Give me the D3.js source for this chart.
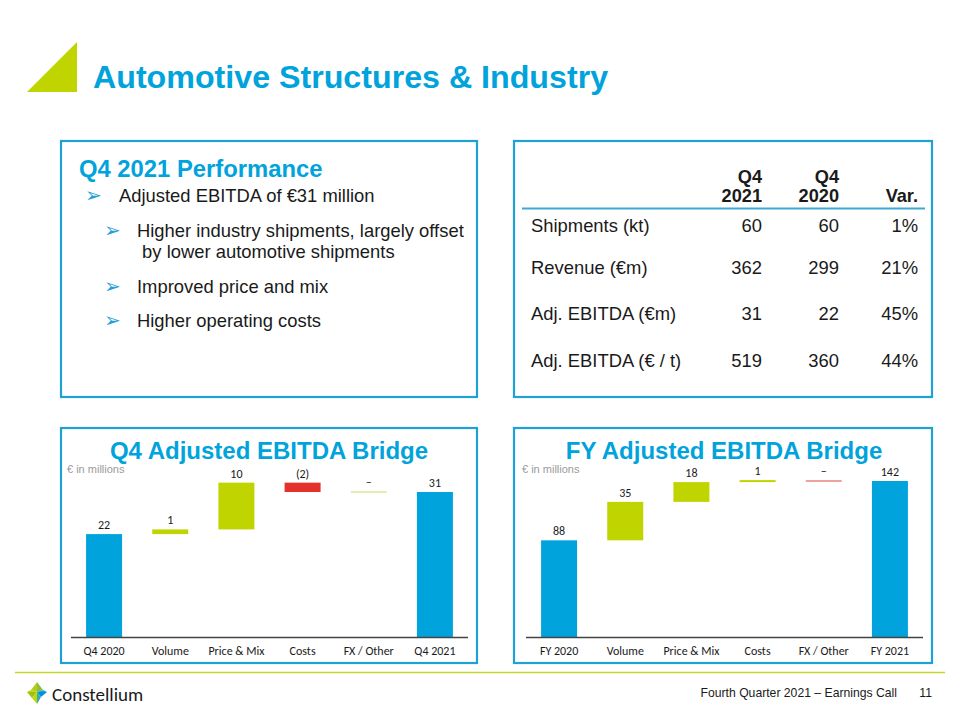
<!DOCTYPE html>
<html>
<head>
<meta charset="utf-8">
<script src="https://cdn.jsdelivr.net/npm/d3@7/dist/d3.min.js"></script>
<style>
  html, body { margin: 0; padding: 0; background: #fff; }
  svg { display: block; }
  .arial { font-family: "Liberation Sans", Arial, sans-serif; }
  .cal { font-family: Carlito, Lato, "Open Sans", sans-serif; }
</style>
</head>
<body>
<script>
// ---------- DATA ----------
const pageTitle = "Automotive Structures & Industry";
const perfTitle = "Q4 2021 Performance";
const perfBullets = [
  { level: 0, lines: ["Adjusted EBITDA of €31 million"] },
  { level: 1, lines: ["Higher industry shipments, largely offset", " by lower automotive shipments"] },
  { level: 1, lines: ["Improved price and mix"] },
  { level: 1, lines: ["Higher operating costs"] }
];

const tableHeaders = [["Q4", "2021"], ["Q4", "2020"], ["", "Var."]];
const tableRows = ["Shipments (kt)", "Revenue (€m)", "Adj. EBITDA (€m)", "Adj. EBITDA (€ / t)"];
const colQ42021 = ["60", "362", "31", "519"];
const colQ42020 = ["60", "299", "22", "360"];
const colVar = ["1%", "21%", "45%", "44%"];

const q4Title = "Q4 Adjusted EBITDA Bridge";
const q4Categories = ["Q4 2020", "Volume", "Price & Mix", "Costs", "FX / Other", "Q4 2021"];
const q4Values = [22, 1, 10, -2, 0, 31];
const q4Labels = ["22", "1", "10", "(2)", "–", "31"];

const fyTitle = "FY Adjusted EBITDA Bridge";
const fyCategories = ["FY 2020", "Volume", "Price & Mix", "Costs", "FX / Other", "FY 2021"];
const fyValues = [88, 35, 18, 1, 0, 142];
const fyLabels = ["88", "35", "18", "1", "–", "142"];

const unitNote = "€ in millions";
const footerText = "Fourth Quarter 2021 – Earnings Call";
const pageNumber = "11";
const brand = "Constellium";

// ---------- STYLE ----------
const BLUE = "#00A3DB";
const BORDER = "#1FA0D6";
const GREEN = "#C0D400";
const RED = "#E2322B";
const TEXT = "#1a1a1a";

const svg = d3.select("body").append("svg").attr("width", 960).attr("height", 720);

// Title triangle + title
svg.append("path").attr("d", d3.line()([[27, 92], [77, 42], [77, 92]]) + "Z").attr("fill", GREEN);
svg.append("text").attr("class", "arial").attr("x", 93).attr("y", 88)
  .attr("font-size", 32.2).attr("font-weight", "bold").attr("fill", BLUE).text(pageTitle);

// Panels
const panels = [[61, 141, 416, 256], [514, 141, 418, 256], [61, 428, 416, 235], [514, 428, 418, 235]];
svg.selectAll("rect.panel").data(panels).join("rect").attr("class", "panel")
  .attr("x", d => d[0]).attr("y", d => d[1]).attr("width", d => d[2]).attr("height", d => d[3])
  .attr("fill", "none").attr("stroke", BORDER).attr("stroke-width", 2.2);

// ---------- Performance panel ----------
svg.append("text").attr("class", "arial").attr("x", 79).attr("y", 177)
  .attr("font-size", 23.8).attr("font-weight", "bold").attr("fill", BLUE).text(perfTitle);

const bulletY = [202, 237, 293, 327];
perfBullets.forEach((b, i) => {
  const ax = b.level === 0 ? 85 : 104;
  const tx = b.level === 0 ? 119 : 137;
  svg.append("text").attr("x", ax).attr("y", bulletY[i] - 0.5)
    .attr("font-family", "DejaVu Sans").attr("font-size", 20).attr("fill", BORDER).text("➢");
  b.lines.forEach((ln, j) => {
    svg.append("text").attr("class", "arial").attr("x", tx).attr("y", bulletY[i] + j * 21)
      .attr("font-size", 18.4).attr("fill", TEXT).attr("xml:space", "preserve").text(ln);
  });
});

// ---------- Table ----------
const colRight = [762, 839, 918];
tableHeaders.forEach((h, c) => {
  h.forEach((t, r) => {
    svg.append("text").attr("class", "arial").attr("x", colRight[c]).attr("y", 183 + r * 19)
      .attr("text-anchor", "end").attr("font-size", 18.2).attr("font-weight", "bold").attr("fill", TEXT).text(t);
  });
});
svg.append("line").attr("x1", 522).attr("x2", 925).attr("y1", 208.5).attr("y2", 208.5)
  .attr("stroke", "#3FA9D3").attr("stroke-width", 2);
const rowY = [232, 274, 320, 367];
tableRows.forEach((r, i) => {
  svg.append("text").attr("class", "arial").attr("x", 531).attr("y", rowY[i])
    .attr("font-size", 18.4).attr("fill", TEXT).text(r);
  [colQ42021[i], colQ42020[i], colVar[i]].forEach((v, c) => {
    svg.append("text").attr("class", "arial").attr("x", colRight[c]).attr("y", rowY[i])
      .attr("text-anchor", "end").attr("font-size", 18.4).attr("fill", TEXT).text(v);
  });
});

// ---------- Waterfall ----------
function waterfall(opt) {
  const g = svg.append("g");
  g.append("text").attr("class", "arial").attr("x", opt.cx).attr("y", 458.5).attr("text-anchor", "middle")
    .attr("font-size", 24).attr("font-weight", "bold").attr("fill", BLUE).text(opt.title);
  g.append("text").attr("class", "arial").attr("x", opt.x0 - 4).attr("y", 473)
    .attr("font-size", 11).attr("fill", "#9a9a9a").text(unitNote);

  const x = d3.scaleBand().domain(opt.categories).range([opt.x0, opt.x1])
    .paddingInner(0.456).paddingOuter(0.228);
  const y = d3.scaleLinear().domain([0, opt.values[opt.values.length - 1]]).range([637, opt.topY]);

  let run = 0;
  const bars = opt.values.map((v, i) => {
    const last = opt.values.length - 1;
    if (i === 0 || i === last) { run = v; return { cat: opt.categories[i], lo: 0, hi: v, type: "total", label: opt.labels[i] }; }
    const start = run; run += v;
    return { cat: opt.categories[i], lo: Math.min(start, run), hi: Math.max(start, run),
      type: v > 0 ? "up" : (v < 0 ? "down" : "zero"), label: opt.labels[i] };
  });

  const color = t => t === "total" ? BLUE : t === "up" ? GREEN : t === "down" ? RED : opt.zeroColor;
  const topOf = d => d.type === "zero" ? y(d.hi) - 1 : Math.min(y(d.hi), y(d.lo) - 2);
  g.selectAll("rect.bar").data(bars).join("rect").attr("class", "bar")
    .attr("x", d => x(d.cat)).attr("width", x.bandwidth())
    .attr("y", topOf)
    .attr("height", d => d.type === "zero" ? 2 : Math.max(2, y(d.lo) - y(d.hi)))
    .attr("fill", d => color(d.type));

  g.selectAll("text.val").data(bars).join("text").attr("class", "val cal")
    .attr("x", d => x(d.cat) + x.bandwidth() / 2)
    .attr("y", d => topOf(d) - 5)
    .attr("text-anchor", "middle").attr("font-size", 12).attr("fill", TEXT).text(d => d.label);

  const axis = g.append("g").attr("transform", "translate(0,637.5)")
    .call(d3.axisBottom(x).tickSize(0).tickPadding(9).tickSizeOuter(0));
  axis.select(".domain").attr("stroke", "#444").attr("stroke-width", 1.5)
    .attr("d", `M${opt.x0},0H${opt.x1}`);
  axis.selectAll("text").attr("font-size", 12).attr("fill", TEXT)
    .attr("font-family", "Carlito, Lato, sans-serif");
}

waterfall({ title: q4Title, categories: q4Categories, values: q4Values, labels: q4Labels,
  x0: 71, x1: 468, cx: 269, topY: 492, zeroColor: "#E6EBB0" });
waterfall({ title: fyTitle, categories: fyCategories, values: fyValues, labels: fyLabels,
  x0: 526, x1: 923, cx: 724, topY: 481, zeroColor: "#EFA3A0" });

// ---------- Footer ----------
svg.append("line").attr("x1", 15).attr("x2", 945).attr("y1", 672.5).attr("y2", 672.5)
  .attr("stroke", "#C5D62A").attr("stroke-width", 1.5);
const logo = svg.append("g").attr("transform", "translate(27,682)");
const logoPolys = [
  [[[10, 0], [4, 8], [10, 10]], "#B5CC18"],
  [[[10, 0], [10, 10], [16, 8]], "#8DBE3F"],
  [[[0, 10], [10, 10], [4, 8]], "#C3D600"],
  [[[10, 10], [20, 10], [16, 8]], "#1BA6DD"],
  [[[0, 10], [10, 10], [5, 16]], "#9AC31C"],
  [[[10, 10], [20, 10], [14, 15]], "#0092CF"],
  [[[10, 10], [5, 16], [10, 22]], "#C3D600"],
  [[[10, 10], [14, 15], [10, 22]], "#34A7C8"]
];
logo.selectAll("path").data(logoPolys).join("path")
  .attr("d", d => d3.line()(d[0]) + "Z").attr("fill", d => d[1]);
svg.append("text").attr("class", "cal").attr("x", 52).attr("y", 701)
  .attr("font-size", 19).attr("fill", TEXT).text(brand);
svg.append("text").attr("class", "arial").attr("x", 897).attr("y", 697).attr("text-anchor", "end")
  .attr("font-size", 12.2).attr("fill", TEXT).text(footerText);
svg.append("text").attr("class", "arial").attr("x", 932).attr("y", 697).attr("text-anchor", "end")
  .attr("font-size", 12.2).attr("fill", TEXT).text(pageNumber);
</script>
</body>
</html>
